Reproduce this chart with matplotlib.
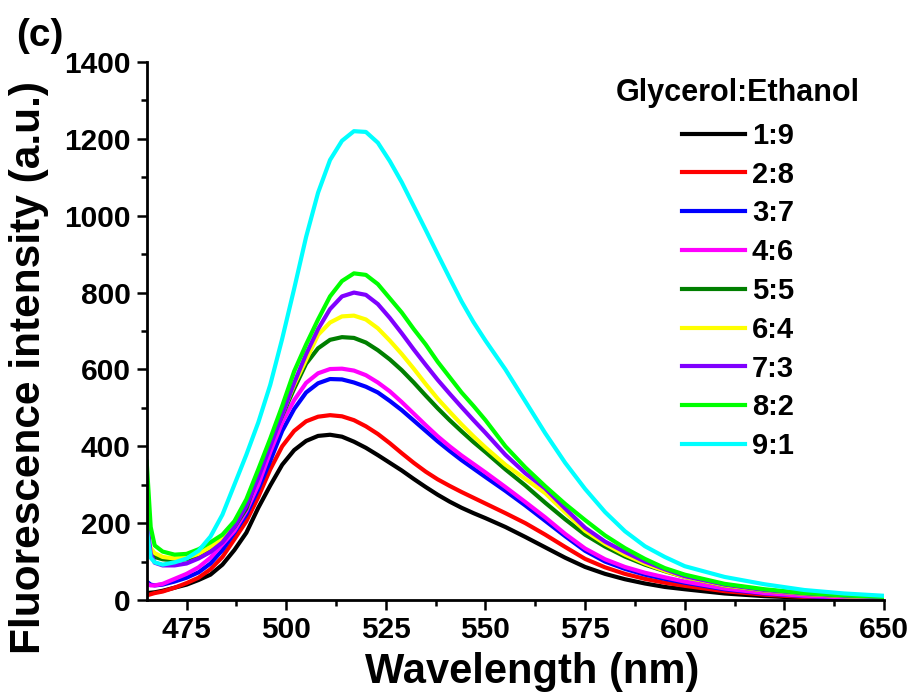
import matplotlib
matplotlib.use('Agg')
import matplotlib.pyplot as plt
from matplotlib.ticker import MultipleLocator

plt.rcParams['font.family'] = ['Liberation Sans', 'DejaVu Sans']
plt.rcParams['font.weight'] = 'bold'

# ---------------- data ----------------
wavelength = [465, 466, 467, 469, 472, 475, 478, 481, 484, 487,
              490, 493, 496, 499, 502, 505, 508, 511, 514, 517,
              520, 523, 526, 529, 532, 535, 538, 541, 544, 547,
              550, 555, 560, 565, 570, 575, 580, 585, 590, 595,
              600, 610, 620, 630, 640, 650]

ratio_1_9 = [18, 19, 20, 24, 32, 40, 52, 66, 92, 130,
             175, 240, 298, 352, 390, 414, 427, 430, 425, 412,
             396, 377, 357, 337, 315, 294, 274, 256, 240, 226,
             213, 190, 164, 137, 110, 86, 68, 54, 43, 34,
             28, 17, 10, 6, 4, 2]
ratio_2_8 = [12, 15, 18, 22, 32, 44, 58, 80, 112, 158,
             205, 268, 340, 400, 440, 465, 477, 481, 478, 468,
             452, 432, 408, 382, 357, 334, 314, 297, 281, 266,
             251, 226, 200, 170, 138, 107, 85, 68, 55, 45,
             37, 23, 14, 8, 5, 3]
ratio_3_7 = [48, 40, 38, 40, 48, 58, 72, 95, 130, 175,
             222, 288, 362, 440, 497, 540, 564, 575, 574, 566,
             555, 540, 518, 494, 467, 440, 413, 388, 364, 342,
             320, 284, 246, 206, 166, 128, 100, 81, 66, 55,
             45, 28, 17, 10, 6, 4]
ratio_4_6 = [42, 38, 38, 42, 55, 68, 85, 110, 145, 180,
             232, 300, 385, 462, 520, 565, 590, 601, 602, 597,
             585, 566, 543, 515, 485, 455, 426, 400, 376, 354,
             332, 294, 255, 215, 172, 134, 106, 86, 71, 59,
             48, 30, 18, 11, 7, 4]
ratio_5_5 = [140, 120, 112, 106, 103, 106, 116, 133, 156, 190,
             238, 328, 412, 480, 550, 615, 655, 677, 684, 682,
             670, 650, 626, 598, 566, 532, 499, 468, 439, 411,
             385, 340, 298, 253, 210, 170, 139, 113, 92, 75,
             60, 38, 25, 16, 10, 7]
ratio_6_4 = [160, 135, 122, 112, 108, 110, 120, 138, 160, 198,
             250, 330, 410, 485, 560, 625, 690, 722, 738, 740,
             730, 707, 675, 640, 602, 562, 524, 490, 457, 426,
             397, 352, 315, 278, 228, 180, 146, 118, 95, 76,
             60, 38, 25, 16, 10, 6]
ratio_7_3 = [215, 120, 97, 90, 90, 95, 108, 125, 150, 190,
             245, 318, 400, 482, 565, 640, 705, 757, 790, 800,
             794, 770, 734, 694, 652, 612, 573, 537, 502, 468,
             435, 378, 330, 290, 238, 188, 152, 125, 100, 80,
             62, 40, 26, 17, 11, 7]
ratio_8_2 = [360, 190, 142, 126, 118, 120, 132, 150, 170, 205,
             262, 340, 420, 505, 595, 665, 730, 790, 830, 850,
             846, 822, 785, 748, 705, 665, 620, 580, 540, 505,
             468, 400, 345, 296, 250, 208, 168, 135, 107, 83,
             66, 42, 28, 18, 12, 8]
ratio_9_1 = [185, 110, 98, 92, 98, 108, 128, 165, 222, 300,
             378, 462, 560, 680, 810, 945, 1060, 1145, 1195, 1220,
             1218, 1190, 1142, 1087, 1025, 963, 900, 838, 777, 723,
             675, 600, 517, 434, 357, 289, 229, 179, 140, 112,
             88, 60, 41, 26, 17, 11]

labels = ['1:9', '2:8', '3:7', '4:6', '5:5', '6:4', '7:3', '8:2', '9:1']
series = [ratio_1_9, ratio_2_8, ratio_3_7, ratio_4_6, ratio_5_5,
          ratio_6_4, ratio_7_3, ratio_8_2, ratio_9_1]
colors = ['#000000', '#FF0000', '#0000FF', '#FF00FF', '#007F00',
          '#FFFF00', '#8000FF', '#00FF00', '#00FFFF']

x_ticks = [475, 500, 525, 550, 575, 600, 625, 650]
y_ticks = [0, 200, 400, 600, 800, 1000, 1200, 1400]

# ---------------- figure ----------------
W, H = 912, 697
fig = plt.figure(figsize=(W / 100, H / 100), dpi=100)
ax = fig.add_axes([146.7 / W, 1 - 600 / H, (884 - 146.7) / W, (600 - 62) / H])

for ys, c, lab in zip(series, colors, labels):
    ax.plot(wavelength, ys, color=c, lw=3.0, label=lab,
            solid_joinstyle='round')

ax.set_xlim(465, 650)
ax.set_ylim(0, 1400)
ax.set_xticks(x_ticks)
ax.set_yticks(y_ticks)
ax.xaxis.set_minor_locator(MultipleLocator(12.5))
ax.yaxis.set_minor_locator(MultipleLocator(100))

for s in ['top', 'right']:
    ax.spines[s].set_visible(False)
for s in ['left', 'bottom']:
    ax.spines[s].set_linewidth(2)

ax.tick_params(which='major', direction='out', length=7.5, width=1.8,
               labelsize=21.5, pad=4)
ax.tick_params(which='minor', direction='out', length=4.5, width=1.8)

leg = ax.legend(title='Glycerol:Ethanol', frameon=False, fontsize=21,
                title_fontsize=22, handlelength=2.15, handletextpad=0.25,
                labelspacing=0.37, loc='upper center',
                bbox_to_anchor=(738 / W, 1 - 78 / H),
                bbox_transform=fig.transFigure, borderpad=0, borderaxespad=0)
leg.get_title().set_fontweight('bold')
leg._legend_box.sep = 10

fig.text(40 / W, 1 - 36 / H, '(c)', fontsize=28, ha='center', va='center')
fig.text(29 / W, 1 - 368 / H, 'Fluorescence intensity (a.u.)', rotation=90,
         fontsize=30.5, ha='center', va='center')
fig.text(532 / W, 1 - 672 / H, 'Wavelength (nm)', fontsize=30,
         ha='center', va='center')

fig.savefig('out.png', dpi=100)
